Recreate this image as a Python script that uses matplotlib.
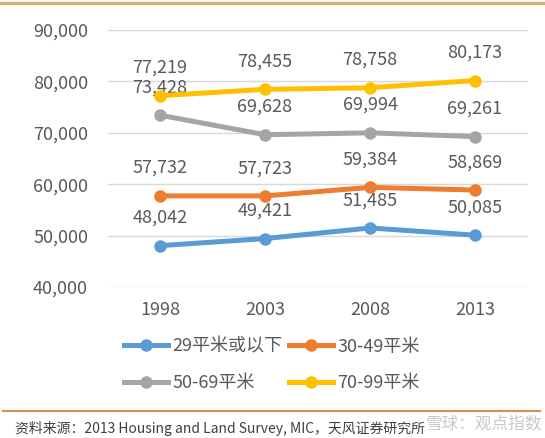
import matplotlib.pyplot as plt
from matplotlib.lines import Line2D

plt.rcParams['font.family'] = ['Noto Sans CJK SC', 'DejaVu Sans']

years = ['1998', '2003', '2008', '2013']
series_names = ['29平米或以下', '30-49平米', '50-69平米', '70-99平米']
small = [48042, 49421, 51485, 50085]
mid = [57732, 57723, 59384, 58869]
large = [73428, 69628, 69994, 69261]
xlarge = [77219, 78455, 78758, 80173]
colors = ['#5B9BD5', '#ED7D31', '#A5A5A5', '#FFC000']
yticks = [40000, 50000, 60000, 70000, 80000, 90000]

W, H = 545, 438
fig = plt.figure(figsize=(W / 100, H / 100), dpi=100)
ax = fig.add_axes([107.5 / W, 151 / H, 420 / W, 257 / H])

text_color = '#595959'
x = list(range(len(years)))
for vals, c in zip([small, mid, large, xlarge], colors):
    ax.plot(x, vals, color=c, lw=3.6, marker='o', ms=8, solid_capstyle='round', zorder=3)
    for xi, v in zip(x, vals):
        ax.annotate(f'{v:,}', (xi, v), xytext=(0, 20), textcoords='offset points',
                    ha='center', va='center', fontsize=13, color=text_color)

ax.set_xlim(-0.5, 3.5)
ax.set_ylim(40000, 90000)
ax.set_yticks(yticks)
ax.set_yticklabels([f'{t:,}' for t in yticks])
ax.set_xticks(x)
ax.set_xticklabels(years)
ax.grid(axis='y', color='#D9D9D9', lw=1)
ax.set_axisbelow(True)
for s in ax.spines.values():
    s.set_visible(False)
ax.tick_params(length=0, labelsize=13, colors=text_color)
ax.tick_params(axis='y', pad=14)
ax.tick_params(axis='x', pad=10)

# legend: two rows, blue/orange on top, gray/yellow below
handles = [Line2D([], [], color=c, lw=3.6, marker='o', ms=8) for c in colors]
order = [0, 2, 1, 3]
leg = fig.legend([handles[i] for i in order], [series_names[i] for i in order],
                 ncol=2, loc='center', bbox_to_anchor=(272 / W, 1 - 365 / H),
                 frameon=False, fontsize=13, handlelength=2.4, handletextpad=0.25,
                 columnspacing=0.4, labelspacing=1.05, borderpad=0)
for t in leg.get_texts():
    t.set_color(text_color)

fig.add_artist(Line2D([0, 1], [1 - 3 / H, 1 - 3 / H], color='#D8B07E', lw=2.5))
fig.add_artist(Line2D([3 / W, 540 / W], [1 - 411 / H, 1 - 411 / H], color='#D4914A', lw=1.5))
fig.text(15 / W, 1 - 428 / H, '资料来源：2013 Housing and Land Survey, MIC，天风证券研究所',
         fontsize=10, color='#404040', va='center', ha='left')
fig.text(542 / W, 1 - 424 / H, '雪球：观点指数', fontsize=12, color='#BBBBBB',
         alpha=0.8, va='center', ha='right')

fig.savefig('out.png', dpi=100)
